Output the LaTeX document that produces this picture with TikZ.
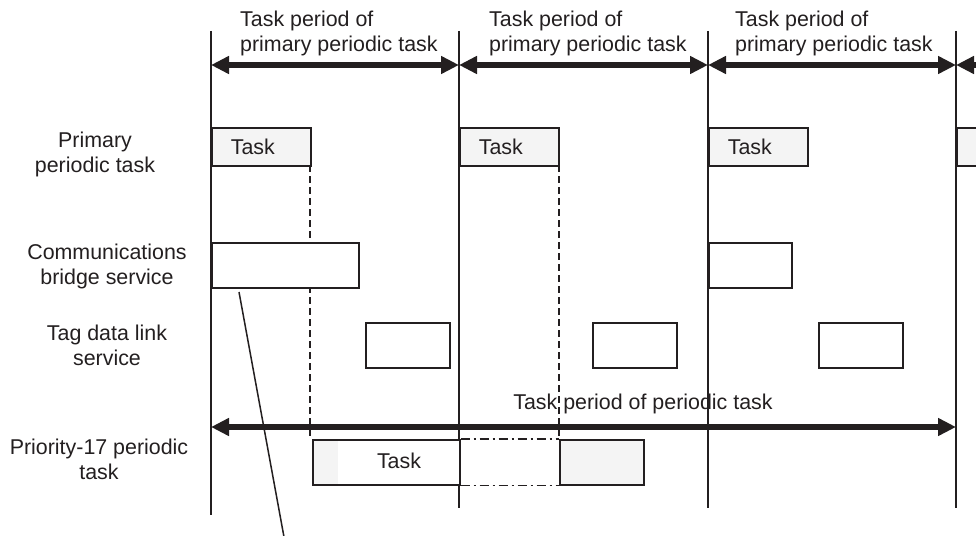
\documentclass[tikz,border=0pt]{standalone}
\usepackage{fontspec}
\setmainfont{Liberation Sans}
\usetikzlibrary{arrows.meta}
\definecolor{ink}{RGB}{35,31,32}
\definecolor{paleg}{RGB}{244,244,244}
\begin{document}
\begin{tikzpicture}[x=1pt,y=-1pt,
  every node/.style={font=\fontsize{21.4}{25}\selectfont, text=ink},
  vline/.style={draw=ink, line width=1.5pt},
  guide/.style={draw=ink, line width=1.5pt, dash pattern=on 6.5pt off 4.5pt},
  dashdot/.style={draw=ink, line width=1.5pt, dash pattern=on 9pt off 4pt on 2pt off 4pt},
  tipbig/.tip={Triangle[length=18pt,width=17pt]},
  span/.style={draw=ink, line width=6pt, tipbig-tipbig},
  spanleft/.style={draw=ink, line width=6pt, tipbig-},
  taskbox/.style={draw=ink, line width=1.7pt, fill=paleg, anchor=north west,
    minimum height=38pt, text width=61pt, inner xsep=19pt, inner ysep=0pt, align=left},
  svcbox/.style={draw=ink, line width=1.7pt, fill=white, anchor=north west,
    inner sep=0pt, minimum height=45pt},
  rowlabel/.style={align=center, inner sep=0pt},
  toplabel/.style={align=left, anchor=west, inner sep=0pt}
]
\useasboundingbox (0,0) rectangle (976,535);
\clip (0,0) rectangle (976,535);
\fill[white] (0,0) rectangle (976,535);

% time marks
\coordinate (v1t) at (211,31); \coordinate (v1b) at (211,515);
\coordinate (v2t) at (459,31); \coordinate (v2b) at (459,508);
\coordinate (v3t) at (708,31); \coordinate (v3b) at (708,508);
\coordinate (v4t) at (956,31); \coordinate (v4b) at (956,508);
\draw[vline] (v1t) -- (v1b);
\draw[vline] (v2t) -- (v2b);
\draw[vline] (v3t) -- (v3b);
\draw[vline] (v4t) -- (v4b);

% top labels
\node[toplabel] (top1) at (240,33) {Task period of\\primary periodic task};
\node[toplabel] (top2) at (489,33) {Task period of\\primary periodic task};
\node[toplabel] (top3) at (735,33) {Task period of\\primary periodic task};

% row labels
\node[rowlabel] (lab1) at (95,154) {Primary\\periodic task};
\node[rowlabel] (lab2) at (107,266) {Communications\\bridge service};
\node[rowlabel] (lab3) at (107,345) {Tag data link\\service};
\node[rowlabel] (lab4) at (99,459) {Priority-17 periodic\\task};

% guide lines
\coordinate (g1t) at (310,165); \coordinate (g1b) at (310,439);
\coordinate (g2t) at (559,165); \coordinate (g2b) at (559,439);
\draw[guide] (g1t) -- (g1b);
\draw[guide] (g2t) -- (g2b);

% primary periodic task
\node[taskbox] (pt1) at (211,127) {Task};
\node[taskbox] (pt2) at (459,127) {Task};
\node[taskbox] (pt3) at (708,127) {Task};
\node[taskbox] (pt4) at (956,127) {};

% communications bridge service
\node[svcbox, minimum width=147pt] (cb1) at (211,242) {};
\node[svcbox, minimum width=83pt] (cb2) at (708,242) {};

% tag data link service
\node[svcbox, minimum width=84pt] (td1) at (365,322) {};
\node[svcbox, minimum width=84pt] (td2) at (592,322) {};
\node[svcbox, minimum width=84pt] (td3) at (818,322) {};

% priority-17 periodic task
\node[svcbox, minimum width=147pt,
  path picture={\fill[paleg] (path picture bounding box.north west) rectangle ([xshift=25pt]path picture bounding box.south west);}]
  (pp1) at (312,439) {};
\node[svcbox, minimum width=84pt, fill=paleg] (pp2) at (559,439) {};
\node (pptext) at (399,461) {Task};
\draw[dashdot] (pp1.north east) -- (pp2.north west);
\draw[dashdot] (pp1.south east) -- (pp2.south west);

% period arrows
\coordinate (a1) at (211,65); \coordinate (a2) at (459,65);
\coordinate (a3) at (708,65); \coordinate (a4) at (956,65);
\coordinate (a5) at (1000,65);
\draw[span] (a1) -- (a2);
\draw[span] (a2) -- (a3);
\draw[span] (a3) -- (a4);
\draw[spanleft] (a4) -- (a5);

\coordinate (b1) at (211,427); \coordinate (b2) at (956,427);
\draw[span] (b1) -- (b2);
\node (blabel) at (643,404) {Task period of periodic task};

% pointer line
\coordinate (d1) at (239,292); \coordinate (d2) at (284,537);
\draw[vline] (d1) -- (d2);
\end{tikzpicture}
\end{document}
